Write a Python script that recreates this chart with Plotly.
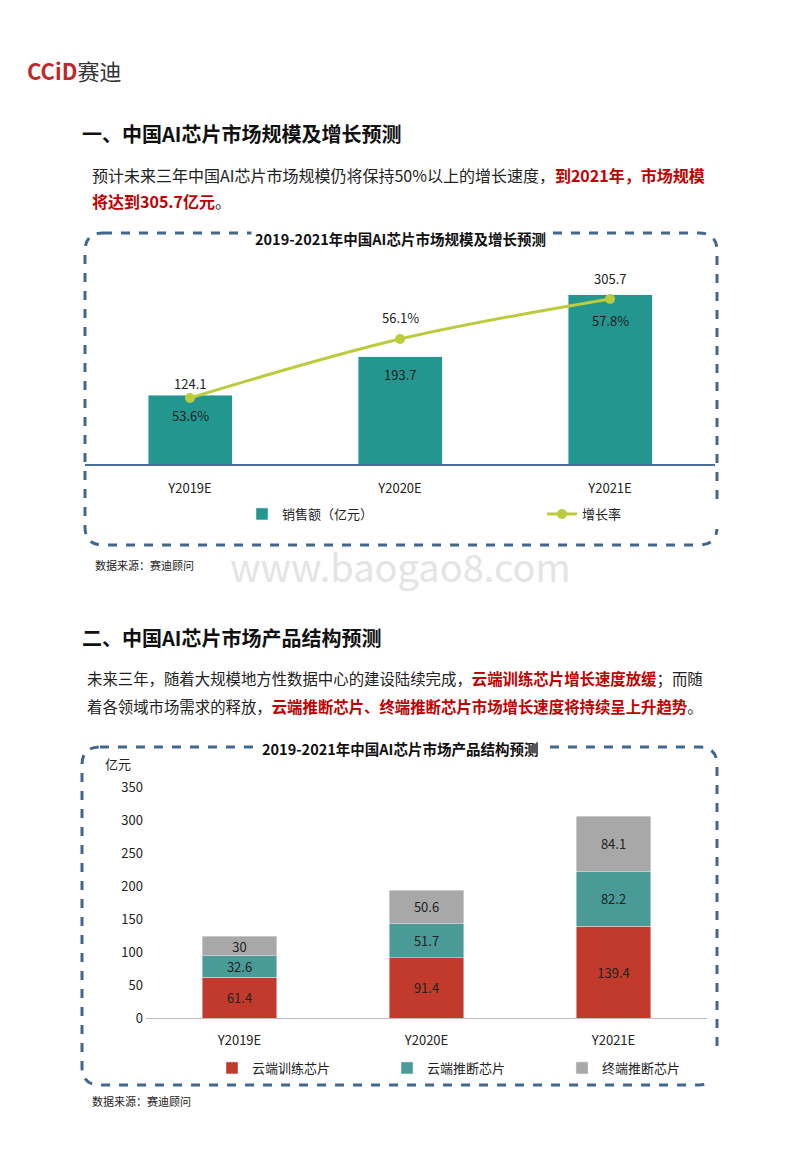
import plotly.graph_objects as go

W, H = 800, 1156
FONT = "Noto Sans CJK SC"
OFF = 8  # page body margin

years = ["Y2019E", "Y2020E", "Y2021E"]
sales = [124.1, 193.7, 305.7]
growth = [53.6, 56.1, 57.8]

train = [61.4, 91.4, 139.4]
infer = [32.6, 51.7, 82.2]
edge = [30, 50.6, 84.1]

TEAL = "#22968F"
LIME = "#BCCB3C"
RED = "#C23A2B"
TEAL2 = "#4A9B97"
GRAY = "#A8A8A8"
BOX = "#41678F"


def px(x):
    return (x - OFF) / W


def py(y):
    return 1 - (y - OFF) / H


fig = go.Figure()

# chart 1: sales bars + growth line
fig.add_trace(go.Bar(x=years, y=sales, name="销售额（亿元）", marker_color=TEAL,
                     width=0.4, xaxis="x", yaxis="y", legend="legend"))
fig.add_trace(go.Scatter(x=years, y=growth, name="增长率", mode="lines+markers",
                         line=dict(color=LIME, width=3, shape="spline"),
                         marker=dict(size=10, color=LIME), xaxis="x", yaxis="y2", legend="legend"))

# chart 2: stacked structure
for name, vals, col in [("云端训练芯片", train, RED), ("云端推断芯片", infer, TEAL2), ("终端推断芯片", edge, GRAY)]:
    fig.add_trace(go.Bar(x=years, y=vals, name=name, marker_color=col, width=0.4,
                         text=[f"{v:g}" for v in vals], textposition="inside", textangle=0,
                         constraintext="none", insidetextanchor="middle",
                         textfont=dict(size=13, color="#222"),
                         xaxis="x3", yaxis="y3", legend="legend2"))

ann = []
# bar labels chart 1
for yr, v, shift in zip(years, sales, [12, -18, 16]):
    ann.append(dict(x=yr, y=v, xref="x", yref="y", text=f"{v:g}", showarrow=False,
                    yshift=shift, font=dict(size=13, color="#222")))
for yr, g, shift in zip(years, growth, [-18, 22, -22]):
    ann.append(dict(x=yr, y=g, xref="x", yref="y2", text=f"{g:g}%", showarrow=False,
                    yshift=shift, font=dict(size=13, color="#222")))

def text(x, y, t, size=14, color="#222", xanchor="left", **kw):
    ann.append(dict(x=px(x), y=py(y), xref="paper", yref="paper", text=t, showarrow=False,
                    xanchor=xanchor, yanchor="middle", font=dict(size=size, color=color, family=FONT), **kw))

R = "#C00000"
text(25, 70, "<b><span style='color:#C0282D'>CCiD</span></b>赛迪", size=22, color="#333")
text(400, 565, "www.baogao8.com", size=38, color="#E4E4E4", xanchor="center")
text(80, 133, "<b>一、中国AI芯片市场规模及增长预测</b>", size=20, color="#111")
text(90, 175, f"预计未来三年中国AI芯片市场规模仍将保持50%以上的增长速度，<b><span style='color:{R}'>到2021年，市场规模</span></b>", size=16)
text(90, 201, f"<b><span style='color:{R}'>将达到305.7亿元</span></b>。", size=16)
text(93, 565, "数据来源：赛迪顾问", size=11)
text(80, 637, "<b>二、中国AI芯片市场产品结构预测</b>", size=20, color="#111")
text(85, 678, f"未来三年，随着大规模地方性数据中心的建设陆续完成，<b><span style='color:{R}'>云端训练芯片增长速度放缓</span></b>；而随", size=15.4)
text(85, 706, f"着各领域市场需求的释放，<b><span style='color:{R}'>云端推断芯片、终端推断芯片市场增长速度将持续呈上升趋势</span></b>。", size=15.4)
text(90, 1101, "数据来源：赛迪顾问", size=11)
text(103, 763, "亿元", size=13)


def box(x0, y0, x1, y1, r=18):
    X0, X1 = px(x0), px(x1)
    Y0, Y1 = py(y0), py(y1)
    rx, ry = r / W, r / H
    path = (f"M {X0+rx} {Y0} L {X1-rx} {Y0} Q {X1} {Y0} {X1} {Y0-ry} "
            f"L {X1} {Y1+ry} Q {X1} {Y1} {X1-rx} {Y1} L {X0+rx} {Y1} "
            f"Q {X0} {Y1} {X0} {Y1+ry} L {X0} {Y0-ry} Q {X0} {Y0} {X0+rx} {Y0} Z")
    return dict(type="path", xref="paper", yref="paper", path=path,
                line=dict(color=BOX, width=3, dash="dash"), layer="below")


shapes = [box(85, 233, 717, 545), box(82, 747, 717, 1085)]
text(400, 238, "<b>2019-2021年中国AI芯片市场规模及增长预测</b>", size=14.5, color="#111",
     xanchor="center", bgcolor="white", borderpad=3)
text(400, 748, "<b>2019-2021年中国AI芯片市场产品结构预测</b>", size=14.5, color="#111",
     xanchor="center", bgcolor="white", borderpad=3)

axfont = dict(size=13, color="#222", family=FONT)
fig.update_layout(
    width=W, height=H, margin=dict(l=0, r=0, t=0, b=0, autoexpand=False),
    paper_bgcolor="white", plot_bgcolor="rgba(0,0,0,0)",
    font=dict(family=FONT), barmode="stack", showlegend=True,
    xaxis=dict(domain=[px(85), px(715)], anchor="y", showline=True, linecolor="#4A6F95",
               linewidth=1.5, ticks="", tickfont=axfont, fixedrange=True, automargin=False,
               ticklabelstandoff=12),
    yaxis=dict(domain=[py(464), py(240)], range=[0, 405], visible=False),
    yaxis2=dict(overlaying="y", range=[50.8, 60.3], visible=False),
    xaxis3=dict(domain=[px(146), px(707)], anchor="y3", showline=True, linecolor="#BBBBBB",
                ticks="", tickfont=axfont, automargin=False, ticklabelstandoff=10),
    yaxis3=dict(domain=[py(1018), py(787)], anchor="x3", range=[0, 350], dtick=50, showgrid=False,
                tickfont=axfont, ticklabelstandoff=2, zeroline=False, automargin=False),
    legend=dict(orientation="h", x=px(242), y=py(514), xanchor="left", yanchor="middle",
                font=dict(size=13, color="#222"), entrywidth=255, traceorder="normal"),
    legend2=dict(orientation="h", x=px(212), y=py(1068), xanchor="left", yanchor="middle",
                 font=dict(size=13, color="#222"), entrywidth=130, traceorder="normal"),
    annotations=ann, shapes=shapes,
)

fig.write_html("out.html")
